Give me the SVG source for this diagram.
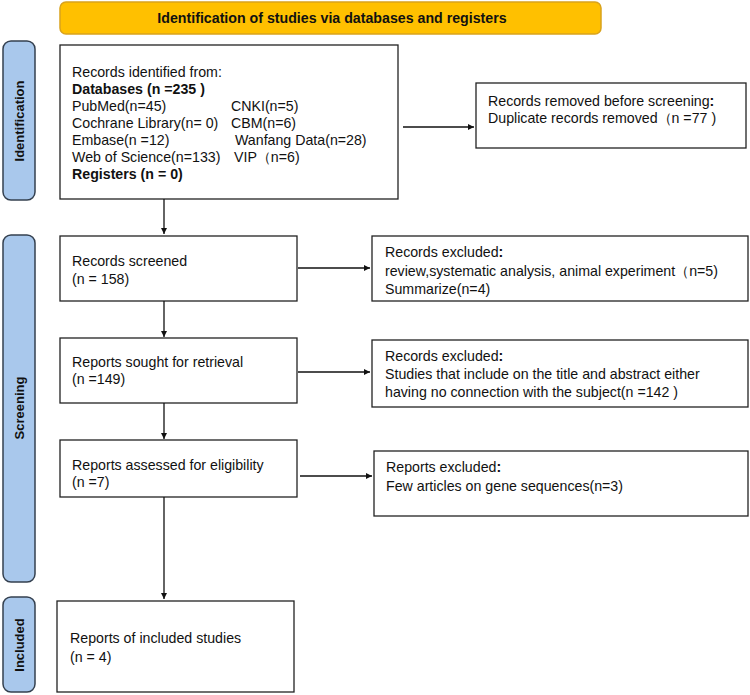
<svg xmlns="http://www.w3.org/2000/svg" width="750" height="695" viewBox="0 0 750 695">
<style>
.box{fill:#fff;stroke:#222;stroke-width:1.3}
.bar{fill:#A9C8EC;stroke:#34404F;stroke-width:1.5}
.t{font-family:"Liberation Sans",Arial,sans-serif;font-size:14.2px;fill:#111}
.b{font-weight:bold}
.side{font-family:"Liberation Sans",Arial,sans-serif;font-size:13px;font-weight:bold;fill:#111;text-anchor:middle}
.c{stroke:#111;stroke-width:1.3;fill:none;marker-end:url(#ah)}
</style>
<defs>
<marker id="ah" viewBox="0 0 10 10" refX="10" refY="5" markerWidth="6" markerHeight="6" orient="auto" markerUnits="userSpaceOnUse">
<path d="M0,0 L10,5 L0,10 z" fill="#111"/>
</marker>
</defs>
<rect width="750" height="695" fill="#fff"/>
<g id="header">
<rect x="60" y="2" width="541" height="32" rx="6" fill="#FFC000" stroke="#D9A21C" stroke-width="1.5"/>
<text class="t b" x="332" y="23" text-anchor="middle">Identification of studies via databases and registers</text>
</g>
<g id="lane-identification">
<rect class="bar" x="3" y="41" width="32" height="159" rx="8"/>
<text class="side" transform="translate(24,121) rotate(-90)">Identification</text>
</g>
<g id="lane-screening">
<rect class="bar" x="3" y="235" width="32" height="347" rx="8"/>
<text class="side" transform="translate(24,408) rotate(-90)">Screening</text>
</g>
<g id="lane-included">
<rect class="bar" x="3" y="597" width="32" height="95" rx="8"/>
<text class="side" transform="translate(24,645) rotate(-90)">Included</text>
</g>
<g id="identified">
<rect class="box" x="60" y="45" width="338" height="154"/>
<text class="t" x="72" y="77">Records identified from:</text>
<text class="t b" x="72" y="94">Databases (n =235 )</text>
<text class="t" x="72" y="111">PubMed(n=45)</text>
<text class="t" x="231" y="111">CNKI(n=5)</text>
<text class="t" x="72" y="128">Cochrane Library(n= 0)</text>
<text class="t" x="231" y="128">CBM(n=6)</text>
<text class="t" x="72" y="145">Embase(n =12)</text>
<text class="t" x="235" y="145">Wanfang Data(n=28)</text>
<text class="t" x="72" y="162">Web of Science(n=133)</text>
<text class="t" x="234" y="162">VIP（n=6)</text>
<text class="t b" x="72" y="179">Registers (n = 0)</text>
</g>
<g id="removed">
<rect class="box" x="476" y="83" width="270" height="65"/>
<text class="t" x="488" y="106">Records removed before screening<tspan class="b">:</tspan></text>
<text class="t" x="488" y="123">Duplicate records removed（n =77 )</text>
</g>
<g id="screened">
<rect class="box" x="60" y="236" width="237" height="65"/>
<text class="t" x="72" y="266">Records screened</text>
<text class="t" x="72" y="284">(n = 158)</text>
</g>
<g id="excluded1">
<rect class="box" x="372" y="236" width="376" height="65"/>
<text class="t" x="385" y="257">Records excluded<tspan class="b">:</tspan></text>
<text class="t" x="385" y="276">review,systematic analysis, animal experiment（n=5)</text>
<text class="t" x="385" y="294">Summarize(n=4)</text>
</g>
<g id="sought">
<rect class="box" x="60" y="338" width="237" height="65"/>
<text class="t" x="72" y="367">Reports sought for retrieval</text>
<text class="t" x="72" y="384">(n =149)</text>
</g>
<g id="excluded2">
<rect class="box" x="372" y="340" width="376" height="67"/>
<text class="t" x="385" y="361">Records excluded<tspan class="b">:</tspan></text>
<text class="t" x="385" y="379">Studies that include on the title and abstract either</text>
<text class="t" x="385" y="397">having no connection with the subject(n =142 )</text>
</g>
<g id="assessed">
<rect class="box" x="60" y="440" width="237" height="57"/>
<text class="t" x="72" y="470">Reports assessed for eligibility</text>
<text class="t" x="72" y="487">(n =7)</text>
</g>
<g id="excluded3">
<rect class="box" x="374" y="451" width="374" height="65"/>
<text class="t" x="386" y="472">Reports excluded<tspan class="b">:</tspan></text>
<text class="t" x="386" y="491">Few articles on gene sequences(n=3)</text>
</g>
<g id="included">
<rect class="box" x="57" y="601" width="237" height="91"/>
<text class="t" x="70" y="643">Reports of included studies</text>
<text class="t" x="70" y="662">(n = 4)</text>
</g>
<g id="connectors">
<line class="c" x1="164" y1="199" x2="164" y2="234"/>
<line class="c" x1="164" y1="301" x2="164" y2="337"/>
<line class="c" x1="164" y1="403" x2="164" y2="439"/>
<line class="c" x1="164" y1="497" x2="164" y2="599"/>
<line class="c" x1="403" y1="127" x2="474" y2="127"/>
<line class="c" x1="298" y1="268" x2="370" y2="268"/>
<line class="c" x1="298" y1="372" x2="370" y2="372"/>
<line class="c" x1="300" y1="476" x2="372" y2="476"/>
</g>
</svg>
